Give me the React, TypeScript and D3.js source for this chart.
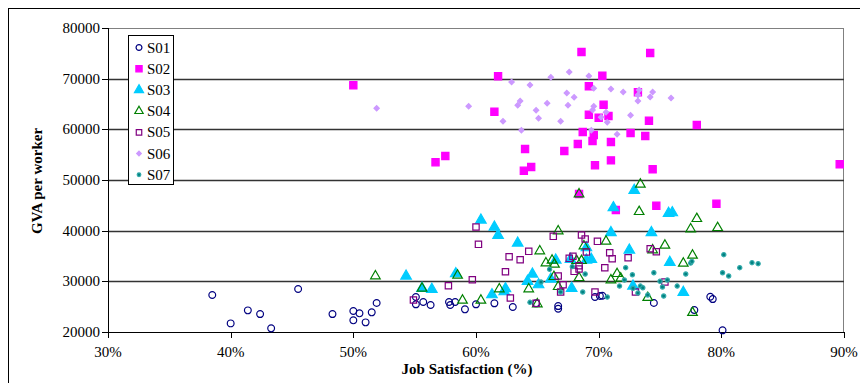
import React from "react";
import { scaleLinear, symbol, symbolCircle, symbolSquare, symbolTriangle } from "d3";

// [job satisfaction %, GVA per worker]
const s01 = [
  [38.5, 27300], [40.0, 21700], [41.4, 24270], [42.4, 23540], [43.3, 20720], [45.5, 28480],
  [48.3, 23540], [50.0, 24140], [50.0, 22300], [50.5, 23680], [51.0, 21900], [51.5, 23880],
  [51.9, 25720], [55.1, 26900], [55.1, 25460], [55.7, 25910], [56.3, 25320], [57.8, 25910],
  [57.9, 25320], [58.3, 25910], [59.1, 24470], [60.0, 25460], [61.5, 25660], [63.0, 24930],
  [64.9, 25660], [66.7, 25120], [66.7, 24590], [69.7, 26900], [70.1, 27100], [70.3, 27160],
  [74.5, 25720], [77.8, 24330], [79.1, 26960], [79.3, 26500], [80.1, 20330],
];
const s02 = [
  [50.0, 68690], [61.8, 70470], [68.6, 75260], [74.2, 75070], [61.5, 63480], [69.2, 68490],
  [70.3, 70590], [70.4, 64860], [69.2, 62890], [70.0, 62300], [70.8, 62630], [73.2, 67310],
  [74.1, 61700], [78.0, 60850], [68.7, 59470], [69.6, 58880], [69.5, 57690], [68.3, 57100],
  [67.2, 55720], [64.0, 56120], [57.5, 54730], [56.7, 53500], [64.5, 52560], [63.9, 51830],
  [69.7, 52900], [71.0, 57500], [72.6, 59270], [73.8, 58680], [71.0, 53880], [74.4, 52110],
  [89.65, 53100], [68.4, 47230], [71.4, 44070], [74.7, 44930], [79.6, 45320],
];
const s03 = [
  [54.3, 31050], [55.6, 28620], [56.4, 28420], [58.35, 31500], [60.4, 42100], [61.5, 40720],
  [61.8, 39080], [63.4, 37560], [61.3, 27360], [62.4, 28550], [62.3, 27950], [64.2, 30000],
  [64.6, 31440], [65.1, 29330], [66.1, 30450], [66.5, 34200], [67.8, 28620], [69.4, 34340],
  [69.0, 34200], [67.7, 34340], [71.0, 39610], [71.2, 44540], [72.5, 36180], [72.9, 47960],
  [75.7, 43420], [76.0, 43540], [74.3, 39610], [75.8, 33750], [72.8, 29070], [76.9, 27830],
  [69.0, 36640],
];
const s04 = [
  [51.8, 31050], [55.6, 28620], [58.5, 31190], [58.9, 26250], [60.4, 26250], [61.9, 28480],
  [64.3, 28480], [65.2, 35980], [65.7, 33610], [66.2, 34140], [66.4, 33350], [66.35, 30910],
  [66.7, 28940], [65.0, 25520], [66.7, 39930], [68.8, 36970], [68.4, 47230], [68.2, 34070],
  [68.6, 34070], [68.4, 30710], [70.6, 37890], [71.0, 30260], [71.5, 31500], [71.8, 30590],
  [73.4, 49140], [73.3, 43740], [78.0, 42360], [77.5, 40320], [79.7, 40580], [75.4, 37100],
  [74.4, 36180], [77.65, 35130], [76.9, 33550], [74.0, 26770], [77.65, 23810],
];
const s05 = [
  [54.9, 26310], [57.75, 29130], [59.7, 30320], [60.0, 40720], [60.2, 37300], [62.4, 31900],
  [62.7, 34860], [63.6, 34260], [64.3, 35920], [62.8, 26700], [64.9, 25660], [66.3, 38880],
  [66.7, 31050], [67.1, 29330], [66.9, 27890], [67.6, 34540], [67.9, 34930], [68.0, 31970],
  [68.4, 33080], [68.4, 32430], [68.6, 39140], [68.9, 38350], [69.0, 35780], [69.9, 37890],
  [70.5, 32690], [69.7, 27890], [70.9, 35650], [71.1, 34460], [72.4, 34660], [74.2, 36440],
  [74.7, 35850], [75.4, 29860], [73.0, 27890],
];
const s06 = [
  [51.9, 64150], [59.4, 64540], [62.9, 69340], [64.4, 68750], [66.1, 70270], [67.6, 71320],
  [69.2, 70530], [69.6, 68100], [67.4, 67170], [68.0, 66320], [63.6, 65590], [63.4, 64740],
  [65.8, 65140], [64.9, 63750], [67.5, 64740], [69.6, 64540], [69.5, 63810], [65.1, 62170],
  [62.2, 61580], [66.9, 61580], [63.7, 59800], [69.4, 59800], [71.0, 67960], [72.0, 67370],
  [73.3, 67760], [73.2, 66770], [74.4, 67370], [74.2, 66380], [75.9, 66180], [73.2, 65590],
  [70.6, 63360], [70.2, 62370], [70.7, 61380], [72.6, 62770], [71.5, 59020],
];
const s07 = [
  [66.0, 32370], [65.3, 29860], [64.4, 25860], [67.85, 32900], [68.9, 31440], [68.7, 27890],
  [70.7, 26900], [72.2, 32690], [72.1, 30260], [71.7, 29070], [72.75, 31300], [74.5, 31700],
  [75.0, 30000], [75.6, 30260], [75.2, 28880], [76.4, 29070], [77.1, 31440], [77.5, 33610],
  [77.6, 33940], [80.2, 35260], [80.1, 31700], [80.6, 31050], [81.5, 32690], [82.5, 33680],
  [83.0, 33480], [73.4, 29070], [73.6, 28740], [73.2, 27700], [74.0, 27300], [75.3, 27100],
  [72.8, 28620], [66.9, 27890],
];

const seriesNames = ["S01", "S02", "S03", "S04", "S05", "S06", "S07"];
const xTicks = [30, 40, 50, 60, 70, 80, 90];
const yTicks = [20000, 30000, 40000, 50000, 60000, 70000, 80000];

// S06 is drawn as a square turned 45 degrees
const styles = [
  { type: symbolCircle, size: 36, fill: "none", stroke: "#000080", rot: 0 },
  { type: symbolSquare, size: 52, fill: "#ff00ff", stroke: "#ff00ff", rot: 0 },
  { type: symbolTriangle, size: 48, fill: "#00ccff", stroke: "#00ccff", rot: 0 },
  { type: symbolTriangle, size: 40, fill: "none", stroke: "#008000", rot: 0 },
  { type: symbolSquare, size: 40, fill: "none", stroke: "#800080", rot: 0 },
  { type: symbolSquare, size: 14, fill: "#cc99ff", stroke: "#cc99ff", rot: 45 },
  { type: symbolCircle, size: 14, fill: "#008080", stroke: "#33aaaa", rot: 0 },
];

const font = "'Liberation Serif', 'Times New Roman', serif";

export default function App() {
  const x = scaleLinear().domain([30, 90]).range([108, 844]);
  const y = scaleLinear().domain([20000, 80000]).range([332, 28]);
  const data = [s01, s02, s03, s04, s05, s06, s07];

  return (
    <svg width={860} height={383} style={{ position: "absolute", left: 0, top: 0, display: "block", fontFamily: font }}>
      <rect x={8.5} y={8.5} width={880} height={400} fill="white" stroke="#000" />
      {/* plot area border (top/right grey) */}
      <line x1={108} x2={844} y1={28.5} y2={28.5} stroke="#808080" />
      <line x1={843.5} x2={843.5} y1={28} y2={332} stroke="#808080" />
      {yTicks.slice(1, -1).map(t => (
        <line key={t} x1={108} x2={844} y1={Math.round(y(t)) + 0.5} y2={Math.round(y(t)) + 0.5} stroke="#333" strokeWidth={1.3} />
      ))}
      {/* axes */}
      <line x1={108.5} x2={108.5} y1={28} y2={332} stroke="#000" />
      <line x1={108} x2={844} y1={332.5} y2={332.5} stroke="#000" />
      {yTicks.map(t => (
        <g key={t}>
          <line x1={102} x2={108} y1={Math.round(y(t)) + 0.5} y2={Math.round(y(t)) + 0.5} stroke="#000" />
          <text x={100} y={y(t) + 5} textAnchor="end" fontSize={15}>{t}</text>
        </g>
      ))}
      {xTicks.map(t => (
        <g key={t}>
          <line x1={Math.round(x(t)) + 0.5} x2={Math.round(x(t)) + 0.5} y1={332} y2={338} stroke="#000" />
          <text x={x(t)} y={357} textAnchor="middle" fontSize={15}>{t}%</text>
        </g>
      ))}
      <text x={467} y={374} textAnchor="middle" fontSize={15} fontWeight="bold">Job Satisfaction (%)</text>
      <text transform="translate(42,181) rotate(-90)" textAnchor="middle" fontSize={15} fontWeight="bold">GVA per worker</text>
      {/* points */}
      {data.map((pts, i) => {
        const st = styles[i];
        const d = symbol(st.type, st.size)() as string;
        return (
          <g key={i}>
            {pts.map((p, j) => (
              <path key={j} d={d} transform={`translate(${x(p[0])},${y(p[1])}) rotate(${st.rot})`} fill={st.fill} stroke={st.stroke} strokeWidth={1.2} />
            ))}
          </g>
        );
      })}
      {/* legend */}
      <rect x={128.5} y={35.5} width={45} height={149} fill="white" stroke="#000" />
      {seriesNames.map((n, i) => {
        const st = styles[i];
        const d = symbol(st.type, st.size * 0.75)() as string;
        const cy = 47.5 + i * 21.2;
        return (
          <g key={n}>
            <path d={d} transform={`translate(139,${cy}) rotate(${st.rot})`} fill={st.fill} stroke={st.stroke} strokeWidth={1.2} />
            <text x={147} y={cy + 5} fontSize={15}>{n}</text>
          </g>
        );
      })}
    </svg>
  );
}
